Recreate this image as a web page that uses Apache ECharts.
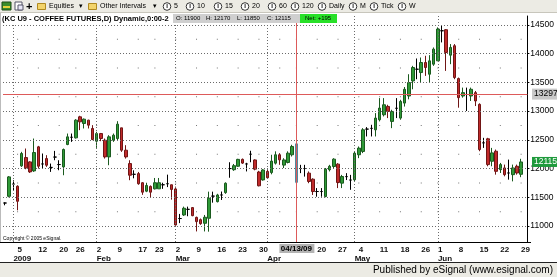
<!DOCTYPE html>
<html><head><meta charset="utf-8">
<script src="https://cdn.jsdelivr.net/npm/echarts@6/dist/echarts.min.js"></script>
<style>html,body{margin:0;padding:0;background:#fff}#c{width:557px;height:277px}</style>
</head><body><div id="c"></div><script>
// trading days (year, month, days)
const dec08=[30,31];
const jan09=[2,5,6,7,8,9,12,13,14,15,16,20,21,22,23,26,27,28,29,30];
const feb09=[2,3,4,5,6,9,10,11,12,13,17,18,19,20,23,24,25,26,27];
const mar09=[2,3,4,5,6,9,10,11,12,13,16,17,18,19,20,23,24,25,26,27,30,31];
const apr09=[1,2,3,6,7,8,9,13,14,15,16,17,20,21,22,23,24,27,28,29,30];
const may09=[1,4,5,6,7,8,11,12,13,14,15,18,19,20,21,22,26,27,28,29];
const jun09=[1,2,3,4,5,8,9,10,11,12,15,16,17,18,19,22,23,24,25,26,29];
const monthLabels={1:'2009',2:'Feb',3:'Mar',4:'Apr',5:'May',6:'Jun'};

const opens=[11400,11517,11730,11692,12047,12192,12116,11959,12378,12080,12174,12020,12200,12070,12029,12419,12545,12535,12901,12785,
12843,12698,12477,12610,12494,12203,12494,12523,12709,12320,12087,11900,11912,11753,11606,11689,11647,11647,11718,11736,
11718,11645,11130,11192,11290,11320,11150,11110,11047,11135,11520,11424,11540,11581,12000,11980,12040,12160,12080,12250,
12150,11940,11802,11950,11930,12094,12240,12060,12106,12240,12430,12000,12000,11920,11815,11600,11600,11513,11980,12036,
12077,11746,11860,11800,11804,12240,12298,12687,12700,12675,12850,12937,13082,12821,13050,12879,13140,13264,13526,13730,
13672,13847,13643,13818,13876,14400,14418,13975,14139,13567,13264,13290,13264,13322,13118,12448,12518,12127,12302,11981,
12011,11923,11894,12040,11900];
const highs=[11410,11870,11796,11709,12291,12349,12128,12523,12395,12262,12233,12087,12308,12145,12349,12610,12610,12860,12919,12872,
12850,12756,12640,12620,12523,12581,12610,12825,12709,12407,12145,11970,11941,11765,11753,11706,11836,11836,11753,11894,
11720,11685,11210,11337,11337,11330,11163,11130,11192,11598,11598,11560,11600,11760,12110,12080,12170,12175,12100,12310,
12160,11960,11990,11985,12240,12300,12268,12180,12300,12414,12450,12065,12065,11950,11830,11660,11660,12010,12065,12180,
12094,11890,11920,11890,12300,12385,12704,12722,12762,12966,13227,13227,13111,13024,13227,13198,13420,13643,13789,13917,
13934,13964,13975,14109,14459,14488,14430,14168,14168,13585,13410,13410,13410,13351,13136,12535,12535,12360,12331,12098,
12069,12156,12069,12069,12170];
const lows=[11360,11500,11622,11273,12029,11988,11924,11942,12000,12000,12029,11942,12145,11971,11884,12407,12465,12523,12669,12698,
12698,12494,12360,12477,12174,12058,12465,12494,12291,12174,11797,11830,11718,11542,11589,11500,11636,11647,11647,11677,
11459,11006,11050,11175,11170,11170,10905,11020,10905,10901,11406,11410,11453,11560,11840,11960,12030,12080,11950,12110,
11970,11690,11790,11830,11900,12070,12065,12010,12090,12210,11750,11920,11860,11745,11540,11510,11510,11500,11950,12006,
11660,11660,11800,11630,11775,12181,12269,12559,12559,12559,12821,12908,12879,12704,12879,12850,13080,13206,13381,13556,
13497,13614,13497,13789,13876,14197,13701,13818,13556,13060,13235,13002,13177,13089,12302,12360,12040,12040,11894,11923,
11865,11807,11777,11894,11850];
const closes=[11400,11855,11730,11430,12262,12012,11942,12279,12041,12080,12058,12020,12200,12070,12332,12552,12545,12843,12814,12860,
12756,12506,12610,12523,12203,12552,12581,12773,12320,12203,11884,11900,11736,11589,11706,11589,11753,11753,11718,11736,
11636,11018,11130,11309,11290,11180,11076,11040,11152,11483,11520,11540,11540,11744,12000,12050,12160,12095,12080,12250,
11990,11700,11976,11840,12130,12240,12152,12150,12268,12385,11760,12000,12000,11775,11600,11600,11600,11990,12040,12164,
11757,11862,11860,11800,12268,12356,12675,12687,12700,12879,13053,13111,12995,12995,13050,13169,13380,13497,13760,13730,
13847,13760,13876,14080,14430,14400,14022,14109,13585,13235,13322,13290,13381,13177,12331,12448,12069,12273,11952,12069,
11894,11923,12011,11923,12115];

const yLabels=[11000,11500,12000,12500,13000,13500,14000,14500];
const midLevels=[11250,11750,12250,12750,13250,13750,14250];
const crossDate='04/13/09';
const crossPrice=13297;
const lastPrice=12115;

// build dates
const monthsSpec=[[2008,12,dec08],[2009,1,jan09],[2009,2,feb09],[2009,3,mar09],[2009,4,apr09],[2009,5,may09],[2009,6,jun09]];
const dates=[], dayNum=[], dObj=[], monthOf=[];
const p2=n=>(n<10?'0':'')+n;
monthsSpec.forEach(([y,m,ds])=>ds.forEach(d=>{
  dates.push(p2(m)+'/'+p2(d)+'/'+String(y).slice(2));
  dayNum.push(d); monthOf.push(m); dObj.push(new Date(y,m-1,d));
}));
const weekStart=new Set(), monthStart=new Set();
for(let i=1;i<dates.length;i++){
  const a=dObj[i-1], b=dObj[i];
  if(b.getDay()<a.getDay() || (b-a)>=7*864e5) weekStart.add(i);
  if(monthOf[i]!==monthOf[i-1] && monthLabels[monthOf[i]]) monthStart.add(i);
}
const cats=dates.concat(['']);
const crossIdx=dates.indexOf(crossDate);
const ohlc=dates.map((d,i)=>{
  const v=[opens[i],closes[i],lows[i],highs[i]];
  if(i===crossIdx) return {value:v,itemStyle:{color:'#8fc0d0',color0:'#8fc0d0',borderColor:'#4f8aa0',borderColor0:'#4f8aa0'}};
  return v;
});
const dotData=[];
weekStart.forEach(i=>midLevels.forEach(l=>dotData.push([dates[i],l])));

const dotted={type:[1,2],color:'#6a6a6a',width:1};
const gridLines=[];
yLabels.forEach(v=>gridLines.push({yAxis:v,lineStyle:dotted}));
monthStart.forEach(i=>gridLines.push({xAxis:dates[i],lineStyle:dotted}));
gridLines.push({xAxis:dates[2],lineStyle:dotted});

const font='Liberation Sans, Arial, sans-serif';
const chart=echarts.init(document.getElementById('c'));
chart.setOption({
  animation:false,
  backgroundColor:'#fff',
  grid:{left:3,right:26,top:16,bottom:35},
  xAxis:[{
    type:'category',data:cats,boundaryGap:true,
    axisLine:{show:true,lineStyle:{color:'#000',width:1}},
    axisTick:{show:false},splitLine:{show:false},
    axisLabel:{interval:(i)=>weekStart.has(i),formatter:(v,i)=>String(dayNum[i]),
      align:'left',margin:4,fontSize:8,fontWeight:'bold',color:'#111',fontFamily:font}
  },{
    type:'category',data:cats,boundaryGap:true,position:'bottom',
    axisLine:{show:false},axisTick:{show:false},splitLine:{show:false},
    axisLabel:{interval:(i)=>monthStart.has(i)||i===2,formatter:(v,i)=>i===2?'2009':monthLabels[monthOf[i]],
      align:'left',margin:13,fontSize:8,fontWeight:'bold',color:'#111',fontFamily:font}
  }],
  yAxis:{
    type:'value',position:'right',min:10721,max:14657,
    axisLine:{show:true,lineStyle:{color:'#000'}},
    axisTick:{show:true,length:2,customValues:yLabels,lineStyle:{color:'#000'}},
    splitLine:{show:false},
    axisLabel:{customValues:yLabels,formatter:(v)=>String(v),margin:3,fontSize:8.5,color:'#000',fontFamily:font}
  },
  series:[{
    type:'scatter',data:dotData,symbol:'rect',symbolSize:1,silent:true,z:1,
    itemStyle:{color:'#555'},
    markLine:{silent:true,symbol:'none',label:{show:false},animation:false,data:gridLines}
  },{
    type:'candlestick',data:ohlc,barWidth:3,z:3,
    itemStyle:{color:'#2f9a37',color0:'#c02a2a',borderColor:'#1a5a1e',borderColor0:'#701515',borderColorDoji:'#000',borderWidth:1},
    markLine:{silent:true,symbol:'none',label:{show:false},animation:false,
      lineStyle:{type:'solid',color:'#dd5a5a',width:1},
      data:[{xAxis:crossDate},{yAxis:crossPrice}]}
  }]
});

const cx=chart.convertToPixel({xAxisIndex:0},crossDate);
const cy=chart.convertToPixel({yAxisIndex:0},crossPrice);
const ly=chart.convertToPixel({yAxisIndex:0},lastPrice);
const T=(x,y,text,o)=>({type:'text',x:x,y:y,style:Object.assign({text:text,fill:'#000',font:'8px '+font,textVerticalAlign:'middle'},o||{})});
const R=(x,y,w,h,fill,stroke)=>({type:'rect',shape:{x:x,y:y,width:w,height:h},style:{fill:fill,stroke:stroke||null,lineWidth:1}});
const circ=(x)=>[{type:'circle',shape:{cx:x+4,cy:6.5,r:3.8},style:{fill:'#fff',stroke:'#333',lineWidth:1}},T(x+4,6.5,'I',{font:'bold 6px '+font,textAlign:'center'})];
const tb=[];
tb.push(R(0,0,557,13,'#ecebe4'));
tb.push({type:'line',shape:{x1:0,y1:12.5,x2:557,y2:12.5},style:{stroke:'#c8c6bc'}});
tb.push(R(2,2,9,8,'#3b8d2b','#1d4d14'));
tb.push(R(3,6,7,2,'#e6d23a'));
tb.push(R(15,2,7,8,'#fff','#556'));
tb.push(R(18,5,5,5,'#e8e8f8','#556'));
tb.push(T(26,6.5,'+',{font:'bold 11px '+font}));
tb.push(R(37.5,3.5,8,6,'#f3d46a','#b08a20'));
tb.push(T(49,6.5,'Equities',{font:'7px '+font}));
tb.push(T(79,6.5,'▾',{font:'7px '+font}));
tb.push(R(88.5,3.5,8,6,'#f3d46a','#b08a20'));
tb.push(T(100,6.5,'Other Intervals',{font:'7px '+font}));
tb.push(T(153,6.5,'▾',{font:'7px '+font}));
[[163,'5'],[186,'10'],[214,'15'],[241,'20'],[268,'60'],[291,'120'],[318,'Daily'],[349,'M'],[370,'Tick'],[398,'W']].forEach(([x,t])=>{
  circ(x).forEach(e=>tb.push(e)); tb.push(T(x+11,6.5,t,{font:'7px '+font}));
});
// title row
tb.push(R(0,13,173,10,'#fff'));
tb.push(T(2,18.5,'(KC U9 - COFFEE FUTURES,D) Dynamic,0:00-2',{font:'bold 7.5px '+font}));
tb.push(R(173,14,127,9,'#cfcfcf'));
tb.push(T(176,18.5,'O: 11900',{font:'6px '+font}));
tb.push(T(206,18.5,'H: 12170',{font:'6px '+font}));
tb.push(T(237,18.5,'L: 11850',{font:'6px '+font}));
tb.push(T(267,18.5,'C: 12115',{font:'6px '+font}));
tb.push(R(300,14,37,9,'#28e028'));
tb.push(T(305,18.5,'Net: +195',{font:'6px '+font}));
// axis baseline extension & left border
tb.push({type:'line',shape:{x1:0,y1:242.5,x2:531,y2:242.5},style:{stroke:'#000'}});
tb.push({type:'line',shape:{x1:0.5,y1:13,x2:0.5,y2:242},style:{stroke:'#bbb'}});
// crosshair labels
tb.push(R(cx-17,244,35,9,'#b4b4b4'));
tb.push(T(cx,248.5,crossDate,{font:'bold 8px '+font,textAlign:'center'}));
tb.push(R(532,cy-5.5,25,11,'#c8c8c8'));
tb.push(T(534,cy,String(crossPrice),{font:'8.5px '+font}));
tb.push(R(532,ly-5,25,10,'#1f9a3c'));
tb.push(T(534,ly,String(lastPrice),{font:'8.5px '+font,fill:'#fff'}));
// copyright
tb.push(T(3,238.5,'Copyright © 2005 eSignal.',{font:'5px '+font}));
// bottom bar
tb.push(R(0,263,557,14,'#ecebe4'));
tb.push({type:'line',shape:{x1:0,y1:262.5,x2:557,y2:262.5},style:{stroke:'#222'}});
tb.push(T(553,270,'Published by eSignal (www.esignal.com)',{font:'10px '+font,textAlign:'right'}));
chart.setOption({graphic:{elements:tb.map(e=>Object.assign(e,{z:100,silent:true}))}});
</script></body></html>
